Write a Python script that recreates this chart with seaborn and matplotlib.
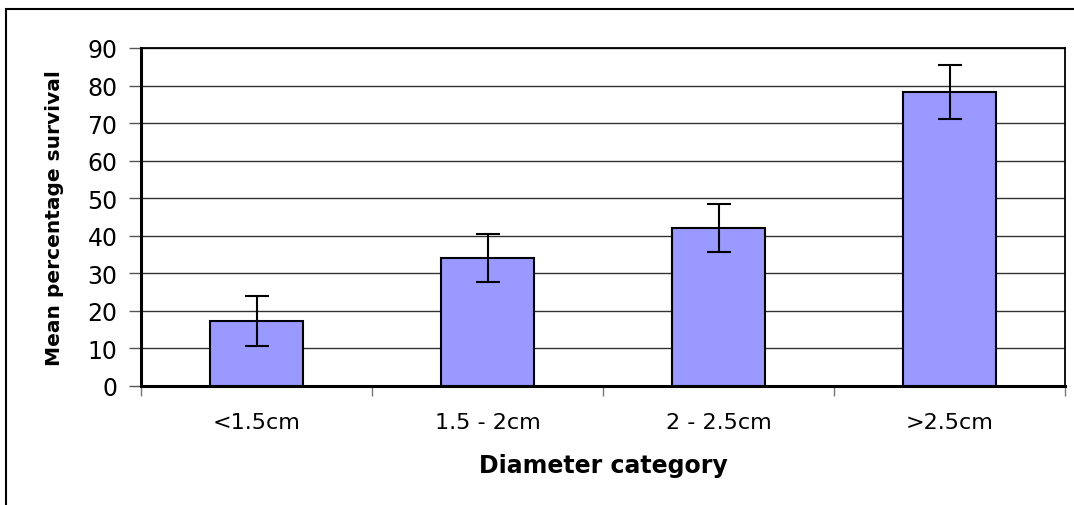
import matplotlib
matplotlib.use("Agg")
import matplotlib.pyplot as plt
import seaborn as sns
import numpy as np
from matplotlib.patches import Rectangle

categories = ["<1.5cm", "1.5 - 2cm", "2 - 2.5cm", ">2.5cm"]
means = [17.3, 34.1, 42.1, 78.3]
errors = [6.7, 6.3, 6.3, 7.3]
yticks = [0, 10, 20, 30, 40, 50, 60, 70, 80, 90]

sns.set_theme(style="white")
plt.rcParams['font.family'] = ['DejaVu Sans']

fig = plt.figure(figsize=(10.74, 5.06), dpi=100)
ax = fig.add_axes([141/1074, 1-387/506, (1065-141)/1074, (387-49)/506])

sns.barplot(x=categories, y=means, color="#9999FF", edgecolor="black",
            linewidth=1.5, width=0.4, saturation=1, ax=ax, zorder=3)
ax.errorbar(x=np.arange(len(categories)), y=means, yerr=errors, fmt="none",
            ecolor="black", elinewidth=1.5, capsize=8.5, capthick=1.5, zorder=4)

ax.set_xlim(-0.5, 3.5)
ax.set_ylim(0, 90)
ax.set_yticks(yticks)
ax.set_yticklabels([str(v) for v in yticks], fontsize=17, color="black")
ax.yaxis.grid(True, color="#333333", linewidth=1.0, zorder=0)
ax.set_axisbelow(True)
ax.tick_params(axis="y", direction="out", length=9, width=1, color="#555555",
               left=True, pad=8)
ax.set_xticks(np.arange(len(categories)))
ax.set_xticklabels(categories, fontsize=16, color="black")
ax.tick_params(axis="x", which="major", length=0, pad=19)
ax.set_xticks([-0.5, 0.5, 1.5, 2.5, 3.5], minor=True)
ax.tick_params(axis="x", which="minor", direction="out", length=7, width=1,
               color="#777777", bottom=True)

ax.set_xlabel("Diameter category", fontsize=17, fontweight="bold",
              labelpad=15, color="black")
ax.set_ylabel("Mean percentage survival", fontsize=14.5, fontweight="bold",
              labelpad=17, color="black")

for side in ["top", "right"]:
    ax.spines[side].set_visible(True)
    ax.spines[side].set_color("black")
    ax.spines[side].set_linewidth(1.3)
for side in ["left", "bottom"]:
    ax.spines[side].set_color("black")
    ax.spines[side].set_linewidth(2.2)

frame = Rectangle((6/1074, -0.5), 2.0, 0.5 + (506-10)/506, transform=fig.transFigure,
                  fill=False, edgecolor="black", linewidth=1.5, clip_on=False)
fig.patches.append(frame)

fig.savefig("out.png", dpi=100)
